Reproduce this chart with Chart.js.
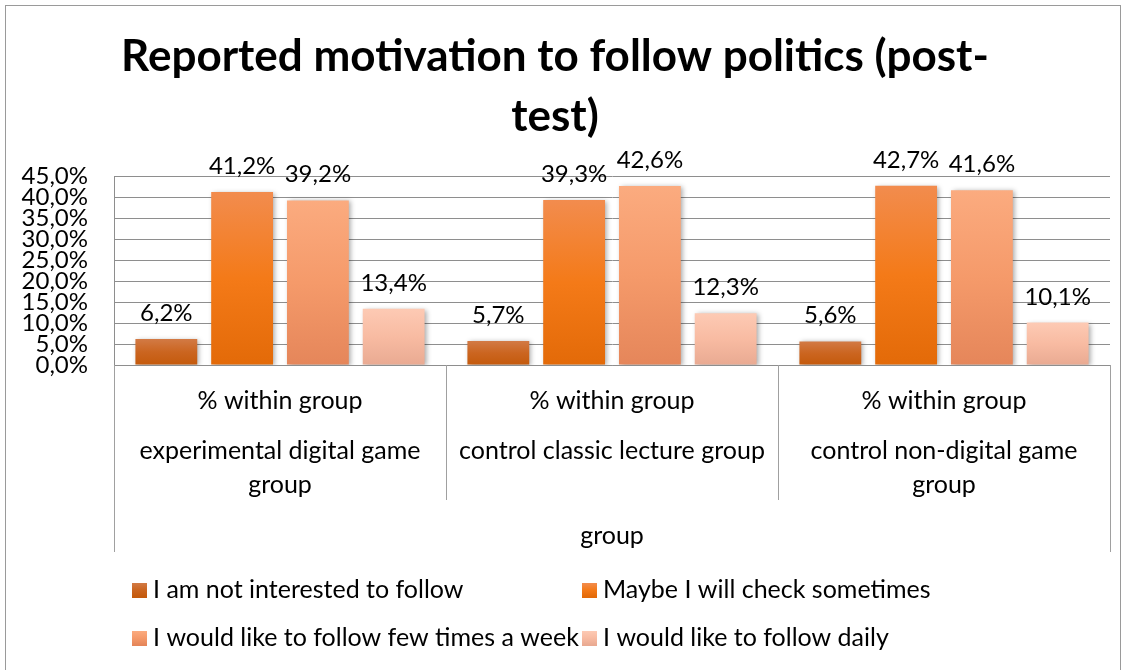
<!DOCTYPE html>
<html>
<head>
<meta charset="utf-8">
<script src="https://cdn.jsdelivr.net/npm/chart.js@4.4.0/dist/chart.umd.min.js"></script>
<style>
  body { margin: 0; background: #fff; }
  canvas { display: block; }
</style>
</head>
<body>
<canvas id="chart" width="1132" height="670"></canvas>
<script>

// data
var groups = [['experimental digital game', 'group'], ['control classic lecture group'], ['control non-digital game', 'group']];
var rowLabel = '% within group';
var axisTitle = 'group';
var titleLines = ['Reported motivation to follow politics (post-', 'test)'];

var seriesNames = ['I am not interested to follow', 'Maybe I will check sometimes',
                   'I would like to follow few times a week', 'I would like to follow daily'];
var notInterested = [6.2, 5.7, 5.6];
var maybeSometimes = [41.2, 39.3, 42.7];
var fewTimesWeek = [39.2, 42.6, 41.6];
var daily = [13.4, 12.3, 10.1];

var yMax = 45, yStep = 5;

// gradient stops per series (top, middle, bottom)
var stops = [
    ['#d27a45', '#cb6520', '#c45a0c'],
    ['#f28c4e', '#f47a18', '#e36a08'],
    ['#fbab7f', '#f59a6a', '#e5865a'],
    ['#fdcab4', '#f8bba2', '#e9aa92']
];

var FONT = 'Lato';

function pct(v) {
    return v.toFixed(1).replace('.', ',') + '%';
}

function barFill(i) {
    return function(ctx) {
        var chart = ctx.chart;
        if (ctx.type !== 'data' || !chart.scales.y) return stops[i][1];
        var top = chart.scales.y.getPixelForValue(ctx.raw);
        var bot = chart.scales.y.getPixelForValue(0);
        if (!isFinite(top) || bot - top < 1) return stops[i][1];
        var g = chart.ctx.createLinearGradient(0, top, 0, bot);
        g.addColorStop(0, stops[i][0]);
        g.addColorStop(0.5, stops[i][1]);
        g.addColorStop(1, stops[i][2]);
        return g;
    };
}

var seriesData = [notInterested, maybeSometimes, fewTimesWeek, daily];
var datasets = seriesData.map(function(d, i) {
    return {label: seriesNames[i], data: d, backgroundColor: barFill(i), borderWidth: 0,
            categoryPercentage: 0.913, barPercentage: 0.816};
});

var framePlugin = {
    id: 'frame',
    beforeDraw: function(chart) {
        var c = chart.ctx;
        c.save();
        c.fillStyle = '#fff';
        c.fillRect(0, 0, chart.width, chart.height);
        c.strokeStyle = '#9a9a9a';
        c.lineWidth = 1;
        c.strokeRect(5.5, 5.5, 1115, 700);
        c.restore();
    }
};

var shadowPlugin = {
    id: 'shadow',
    beforeDatasetsDraw: function(chart) {
        var c = chart.ctx;
        c.save();
        c.shadowColor = 'rgba(0,0,0,0.35)';
        c.shadowBlur = 5;
        c.shadowOffsetX = 2;
        c.shadowOffsetY = 1;
    },
    afterDatasetsDraw: function(chart) {
        chart.ctx.restore();
        // value labels above the bars
        var c = chart.ctx;
        c.save();
        c.font = '24px ' + FONT;
        c.fillStyle = '#000';
        c.textAlign = 'center';
        c.textBaseline = 'alphabetic';
        chart.data.datasets.forEach(function(ds, i) {
            chart.getDatasetMeta(i).data.forEach(function(el, j) {
                c.fillText(pct(ds.data[j]), el.x, el.y - 18);
            });
        });
        c.restore();
    }
};

var tablePlugin = {
    id: 'catTable',
    afterDraw: function(chart) {
        var c = chart.ctx, x = chart.scales.x, a = chart.chartArea;
        var b = a.bottom;
        c.save();
        c.strokeStyle = '#a0a0a0';
        c.lineWidth = 1;
        // separators
        for (var i = 0; i <= groups.length; i++) {
            var px;
            if (i === 0) px = a.left;
            else if (i === groups.length) px = a.right;
            else px = (x.getPixelForValue(i - 1) + x.getPixelForValue(i)) / 2;
            px = Math.round(px) + 0.5;
            var len = (i === 0 || i === groups.length) ? 187 : 135;
            c.beginPath();
            c.moveTo(px, b);
            c.lineTo(px, b + len);
            c.stroke();
        }
        c.font = '25px ' + FONT;
        c.fillStyle = '#000';
        c.textAlign = 'center';
        c.textBaseline = 'middle';
        groups.forEach(function(g, i) {
            var cx = x.getPixelForValue(i);
            c.fillText(rowLabel, cx, b + 36);
            g.forEach(function(line, k) {
                c.fillText(line, cx, b + 86 + k * 34);
            });
        });
        c.fillText(axisTitle, (a.left + a.right) / 2, b + 171);

        // legend in a 2x2 grid
        var cols = [132, 582], rows = [590, 638];
        chart.data.datasets.forEach(function(ds, i) {
            var lx = cols[i % 2], ly = rows[Math.floor(i / 2)];
            var g = c.createLinearGradient(0, ly - 7, 0, ly + 7);
            g.addColorStop(0, stops[i][0]);
            g.addColorStop(0.5, stops[i][1]);
            g.addColorStop(1, stops[i][2]);
            c.fillStyle = g;
            c.fillRect(lx, ly - 7, 15, 15);
            c.fillStyle = '#000';
            c.textAlign = 'left';
            c.fillText(ds.label, lx + 21, ly);
        });
        c.restore();
    }
};

var chart = new Chart(document.getElementById('chart'), {
    type: 'bar',
    data: {labels: groups.map(function(g) { return g.join(' '); }), datasets: datasets},
    plugins: [framePlugin, shadowPlugin, tablePlugin],
    options: {
        responsive: false,
        animation: false,
        layout: {padding: {top: 5, left: 0, right: 22, bottom: 115}},
        plugins: {
            legend: {display: false},
            tooltip: {enabled: false},
            title: {
                display: true,
                text: titleLines,
                color: '#000',
                font: {family: FONT, size: 44, weight: 'bold', lineHeight: 1.364},
                padding: {top: 22, bottom: 29}
            }
        },
        scales: {
            x: {
                grid: {display: false},
                border: {display: true, color: '#8e8e8e'},
                ticks: {display: false},
                afterFit: function(s) { s.height = 190; }
            },
            y: {
                min: 0,
                max: yMax,
                grid: {color: '#8e8e8e', drawTicks: false},
                border: {display: true, color: '#8e8e8e'},
                ticks: {
                    stepSize: yStep,
                    autoSkip: false,
                    padding: 26,
                    color: '#000',
                    font: {family: FONT, size: 24},
                    callback: function(v) { return pct(v); }
                },
                afterFit: function(s) { s.width = 114; }
            }
        }
    }
});

</script>
</body>
</html>
